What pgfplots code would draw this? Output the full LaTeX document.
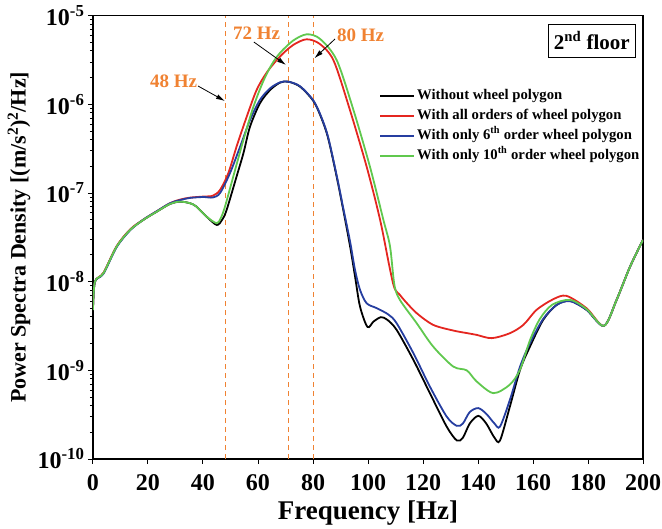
\documentclass[border=0pt]{standalone}
\usepackage{fontspec}
\setmainfont{Liberation Serif}
\usepackage{pgfplots}
\pgfplotsset{compat=1.18}
\usetikzlibrary{arrows.meta}
\definecolor{cred}{RGB}{228,38,32}
\definecolor{cblue}{RGB}{38,62,160}
\definecolor{cgreen}{RGB}{96,200,78}
\definecolor{corange}{RGB}{240,130,50}
\begin{document}
\begin{tikzpicture}
\begin{axis}[
  scale only axis, width=550pt, height=443.3pt,
  xmin=0, xmax=200, ymin=1e-10, ymax=1e-5, ymode=log,
  xtick={0,20,...,200},
  ytick={1e-10,1e-9,1e-8,1e-7,1e-6,1e-5},
  yticklabels={10\textsuperscript{-10},10\textsuperscript{-9},10\textsuperscript{-8},10\textsuperscript{-7},10\textsuperscript{-6},10\textsuperscript{-5}},
  tick pos=left, tick align=outside,
  major tick length=5pt, minor tick length=3pt,
  axis line style={line width=1.2pt},
  every tick/.style={line width=1pt, black},
  /pgf/number format/assume math mode=true,
  xticklabel style={font=\fontsize{24}{24}\selectfont\bfseries, yshift=-7pt},
  yticklabel style={font=\fontsize{24}{24}\selectfont\bfseries},
  xlabel={Frequency [Hz]},
  ylabel={Power Spectra Density [(m/s\textsuperscript{2})\textsuperscript{2}/Hz]},
  xlabel style={font=\fontsize{27}{27}\selectfont\bfseries, at={(axis description cs:0.5,-0.122)}, anchor=center},
  ylabel style={font=\fontsize{22}{22}\selectfont\bfseries, at={(axis description cs:-0.1345,0.5)}, anchor=center},
  legend style={at={(axis description cs:0.52,0.843)}, anchor=north west, draw=none, fill=none,
    font=\fontsize{14.7}{16}\selectfont\bfseries,
    nodes={text height=11pt, text depth=4pt, inner ysep=2.5pt, inner xsep=2pt}, inner sep=0pt},
  legend cell align=left,
  legend image code/.code={\draw[#1, line width=2pt] (0pt,0pt) -- (34pt,0pt);},
]
\addplot[corange, line width=0.9pt, dash pattern=on 5pt off 4pt, forget plot] coordinates {(48,1e-10) (48,1e-5)};
\addplot[corange, line width=0.9pt, dash pattern=on 5pt off 4pt, forget plot] coordinates {(71,1e-10) (71,1e-5)};
\addplot[corange, line width=0.9pt, dash pattern=on 5pt off 4pt, forget plot] coordinates {(80,1e-10) (80,1e-5)};

\addplot[black, line width=1.8pt, smooth] coordinates {
(0,5.01e-9) (0.7,1.0e-8) (3.8,1.247e-8) (8.6,2.489e-8) (13.5,3.837e-8) (18.3,4.977e-8)
(23.2,6.166e-8) (28,7.534e-8) (31.6,7.998e-8) (35.3,7.674e-8) (37.6,7.031e-8) (41.3,5.420e-8)
(45,4.365e-8) (47,5.012e-8) (48.6,6.457e-8) (52.2,1.531e-7) (54.7,2.812e-7) (57.1,5.610e-7)
(60.7,1.028e-6) (64.4,1.452e-6) (68,1.758e-6) (71,1.803e-6) (75.3,1.585e-6) (80.1,1.096e-6)
(83,7.08e-7) (85.5,4.17e-7) (88.6,1.531e-7) (91,6.457e-8) (93.5,2.489e-8) (95.3,1.140e-8) (97.1,5.236e-9)
(99.8,3.09e-9) (102,3.55e-9) (104.7,3.98e-9) (107,3.72e-9) (110.4,2.864e-9) (116.5,1.312e-9)
(122.5,5.534e-10) (128.6,2.323e-10) (132.3,1.618e-10) (134.5,1.738e-10) (137,2.512e-10)
(140.1,3.069e-10) (143,2.512e-10) (146,1.738e-10) (148,1.618e-10) (151.6,3.908e-10)
(155.3,1.014e-9) (158.9,1.854e-9) (163.7,3.707e-9) (168.6,5.470e-9) (173.5,6.067e-9)
(179.5,4.808e-9) (185.8,3.177e-9) (190.4,6.237e-9) (195.3,1.479e-8) (200,2.958e-8)};
\addlegendentry{Without wheel polygon}

\addplot[cred, line width=1.8pt, smooth] coordinates {
(0,5.01e-9) (0.7,1.0e-8) (3.8,1.259e-8) (8.6,2.512e-8) (13.5,3.890e-8) (18.3,5.012e-8)
(23.2,6.237e-8) (28,7.674e-8) (31.6,8.414e-8) (35.3,8.872e-8) (40.1,9.120e-8) (43.6,9.333e-8)
(46.2,1.084e-7) (49.2,1.671e-7) (52.2,3.334e-7) (55.9,7.261e-7) (59.5,1.452e-6) (63.2,2.291e-6)
(68,3.467e-6) (72.8,4.677e-6) (77.7,5.420e-6) (82.5,4.797e-6) (87.4,3.162e-6) (92.8,1.0e-6)
(99.5,1.986e-7) (104.4,4.977e-8) (107.8,1.479e-8) (109.6,8.511e-9) (111.6,7.096e-9) (113.5,6.03e-9)
(117.7,4.416e-9) (123.7,3.258e-9) (131,2.812e-9) (136,2.630e-9) (139.5,2.512e-9) (145,2.307e-9)
(151.6,2.624e-9) (156.5,3.258e-9) (161.3,4.808e-9) (167.4,6.353e-9) (172.2,6.918e-9)
(179.5,5.012e-9) (185.8,3.177e-9) (190.4,6.237e-9) (195.3,1.479e-8) (200,2.958e-8)};
\addlegendentry{With all orders of wheel polygon}

\addplot[cblue, line width=1.8pt, smooth] coordinates {
(0,5.01e-9) (0.7,1.0e-8) (3.8,1.230e-8) (8.6,2.455e-8) (13.5,3.802e-8) (18.3,5.012e-8)
(23.2,6.237e-8) (28,7.674e-8) (31.6,8.318e-8) (35.3,8.810e-8) (40.1,9.016e-8) (43.6,8.913e-8)
(46.2,1.0e-7) (49.8,1.671e-7) (53.5,3.334e-7) (57.1,6.668e-7) (60.7,1.122e-6) (64.4,1.517e-6)
(68,1.770e-6) (71,1.803e-6) (75.3,1.600e-6) (80.1,1.110e-6) (83,7.24e-7) (85.5,4.27e-7) (88.6,1.585e-7)
(91,6.761e-8) (93.5,2.818e-8) (95.3,1.349e-8) (97.1,8.091e-9) (99.5,5.715e-9) (103.2,5.023e-9)
(107.4,4.266e-9) (110.4,3.404e-9) (116.5,1.563e-9) (122.5,6.561e-10) (128.6,3.013e-10)
(132.3,2.366e-10) (134.5,2.512e-10) (137,3.388e-10) (140.1,3.750e-10) (143,3.236e-10)
(146,2.512e-10) (148,2.323e-10) (151.6,4.645e-10) (155.3,1.104e-9) (158.9,2.028e-9)
(163.7,3.802e-9) (168.6,5.470e-9) (173.5,6.026e-9) (179.5,4.808e-9) (185.8,3.177e-9)
(190.4,6.237e-9) (195.3,1.479e-8) (200,2.958e-8)};
\addlegendentry{With only 6\textsuperscript{th} order wheel polygon}

\addplot[cgreen, line width=1.8pt, smooth] coordinates {
(0,4.786e-9) (0.7,1.0e-8) (3.8,1.247e-8) (8.6,2.489e-8) (13.5,3.837e-8) (18.3,4.977e-8)
(23.2,6.166e-8) (28,7.534e-8) (31.6,7.998e-8) (35.3,7.674e-8) (37.6,7.031e-8) (41.3,5.420e-8)
(45,4.560e-8) (46.5,5.248e-8) (48,7.031e-8) (51,1.531e-7) (54.7,3.972e-7) (58.3,9.33e-7)
(61.9,1.820e-6) (65,2.818e-6) (68,3.802e-6) (72.8,5.248e-6) (77.7,6.166e-6) (82.5,5.495e-6)
(88.6,3.162e-6) (94.7,8.650e-7) (100.7,1.986e-7) (105.6,4.977e-8) (108,2.512e-8)
(109.6,9.2e-9) (111.6,6.237e-9) (117.7,3.404e-9) (123.7,1.854e-9) (131,1.104e-9)
(135.9,1.0e-9) (139.5,7.5e-10) (145.6,5.534e-10) (151.6,6.918e-10) (155.3,1.023e-9)
(158.9,2.188e-9) (162.5,3.802e-9) (167,5.495e-9) (173.5,6.237e-9) (179.5,4.898e-9)
(185.8,3.177e-9) (190.4,6.237e-9) (195.3,1.479e-8) (200,2.958e-8)};
\addlegendentry{With only 10\textsuperscript{th} order wheel polygon}

\node[text=corange, font=\fontsize{19}{19}\selectfont\bfseries] at (axis cs:29.3,1.84e-6) {48 Hz};
\draw[-{Latex[length=9pt,width=5pt]}, line width=0.8pt] (axis cs:38.2,1.61e-6) -- (axis cs:48,1.09e-6);
\node[text=corange, font=\fontsize{19}{19}\selectfont\bfseries] at (axis cs:59.5,6.38e-6) {72 Hz};
\draw[-{Latex[length=9pt,width=5pt]}, line width=0.8pt] (axis cs:58.5,5.05e-6) -- (axis cs:70.2,2.78e-6);
\node[text=corange, font=\fontsize{19}{19}\selectfont\bfseries] at (axis cs:97.3,6.05e-6) {80 Hz};
\draw[-{Latex[length=9pt,width=5pt]}, line width=0.8pt] (axis cs:88,5.46e-6) -- (axis cs:80.5,3.31e-6);
\node[draw, line width=1pt, minimum width=87pt, minimum height=33pt, inner sep=0pt,
  font=\fontsize{21}{21}\selectfont\bfseries] at (axis description cs:0.907,0.9436) {2\textsuperscript{nd} floor};
\end{axis}
\pgfresetboundingbox
\path ([shift={(-93pt,-70pt)}]current axis.south west) rectangle ([shift={(19pt,15.7pt)}]current axis.north east);
\end{tikzpicture}
\end{document}
